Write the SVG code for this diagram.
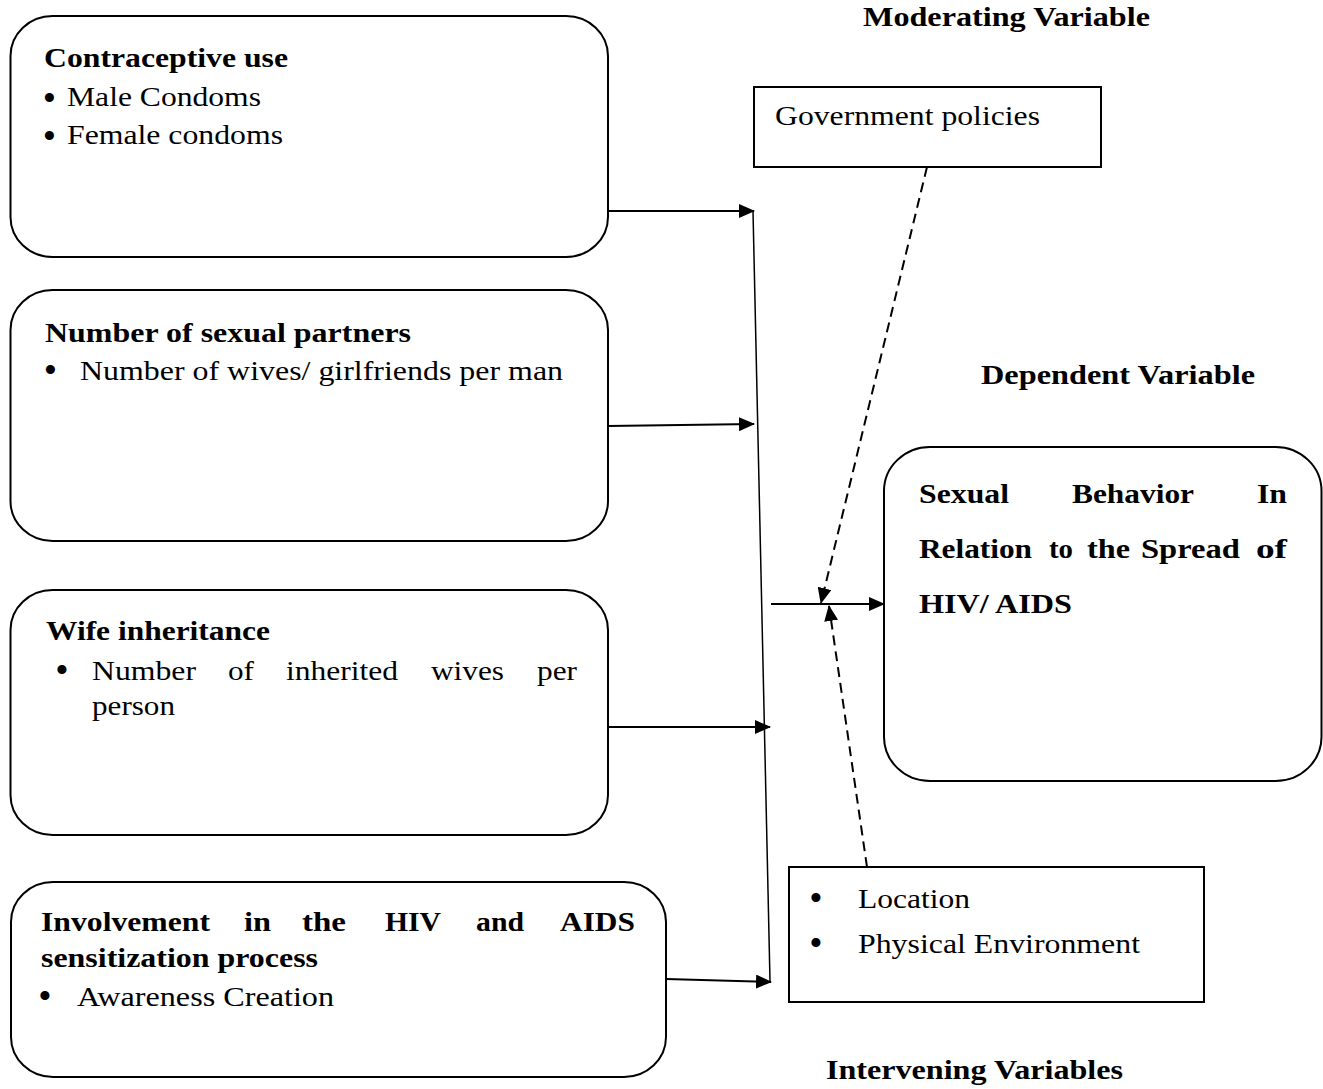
<svg xmlns="http://www.w3.org/2000/svg" width="1323" height="1089" viewBox="0 0 1323 1089" font-family="'Liberation Serif', 'DejaVu Serif', serif">
<style>
text{font-family:'Liberation Serif','DejaVu Serif',serif;font-size:27px;fill:#000}
.b{font-weight:bold}
.bu{font-size:38px;text-anchor:middle}
.box{fill:#fff;stroke:#000;stroke-width:2}
.ar{stroke:#000;stroke-width:2;fill:none;marker-end:url(#ah)}
.da{stroke:#000;stroke-width:2;fill:none;stroke-dasharray:10 6;marker-end:url(#ah)}
</style>
<defs>
<marker id="ah" markerWidth="16" markerHeight="14" refX="15" refY="7" orient="auto" markerUnits="userSpaceOnUse"><path d="M0,0 L16,7 L0,14 Z" fill="#000"/></marker>
</defs>
<rect width="1323" height="1089" fill="#fff"/>

<g id="connectors">
<line x1="753" y1="211" x2="770" y2="981" stroke="#000" stroke-width="1.5"/>
<line class="ar" x1="608" y1="211" x2="754" y2="211"/>
<line class="ar" x1="608" y1="426" x2="754" y2="424"/>
<line class="ar" x1="608" y1="727" x2="770" y2="727"/>
<line class="ar" x1="666" y1="979" x2="771" y2="982"/>
<line class="ar" x1="771" y1="604" x2="884" y2="604"/>
<line class="da" x1="927" y1="167" x2="821" y2="603"/>
<line class="da" x1="867" y1="867" x2="829" y2="606"/>
</g>

<g id="contraceptive">
<rect class="box" x="10.5" y="16" width="597.5" height="241" rx="42" ry="40"/>
<text class="b" x="44" y="67" textLength="244" lengthAdjust="spacingAndGlyphs">Contraceptive use</text>
<text class="bu" x="49.5" y="111">•</text>
<text x="67" y="106" textLength="194" lengthAdjust="spacingAndGlyphs">Male Condoms</text>
<text class="bu" x="49.5" y="149">•</text>
<text x="67" y="144" textLength="216" lengthAdjust="spacingAndGlyphs">Female condoms</text>
</g>

<g id="partners">
<rect class="box" x="10.5" y="290" width="597.5" height="251" rx="42" ry="40"/>
<text class="b" x="45" y="342" textLength="366" lengthAdjust="spacingAndGlyphs">Number of sexual partners</text>
<text class="bu" x="50.5" y="383">•</text>
<text x="80" y="380" textLength="483" lengthAdjust="spacingAndGlyphs">Number of wives/ girlfriends per man</text>
</g>

<g id="inheritance">
<rect class="box" x="10.5" y="590" width="597.5" height="245" rx="42" ry="40"/>
<text class="b" x="46" y="640" textLength="224" lengthAdjust="spacingAndGlyphs">Wife inheritance</text>
<text class="bu" x="62" y="683">•</text>
<text x="92" y="680" textLength="104" lengthAdjust="spacingAndGlyphs">Number</text>
<text x="228" y="680" textLength="26" lengthAdjust="spacingAndGlyphs">of</text>
<text x="286" y="680" textLength="112" lengthAdjust="spacingAndGlyphs">inherited</text>
<text x="431" y="680" textLength="73" lengthAdjust="spacingAndGlyphs">wives</text>
<text x="537" y="680" textLength="40" lengthAdjust="spacingAndGlyphs">per</text>
<text x="92" y="715" textLength="83" lengthAdjust="spacingAndGlyphs">person</text>
</g>

<g id="involvement">
<rect class="box" x="11" y="882" width="655" height="195" rx="42" ry="40"/>
<text class="b" x="41" y="931" textLength="169" lengthAdjust="spacingAndGlyphs">Involvement</text>
<text class="b" x="244" y="931" textLength="27" lengthAdjust="spacingAndGlyphs">in</text>
<text class="b" x="302" y="931" textLength="44" lengthAdjust="spacingAndGlyphs">the</text>
<text class="b" x="385" y="931" textLength="56" lengthAdjust="spacingAndGlyphs">HIV</text>
<text class="b" x="476" y="931" textLength="48" lengthAdjust="spacingAndGlyphs">and</text>
<text class="b" x="560" y="931" textLength="75" lengthAdjust="spacingAndGlyphs">AIDS</text>
<text class="b" x="41" y="967" textLength="277" lengthAdjust="spacingAndGlyphs">sensitization process</text>
<text class="bu" x="45" y="1009">•</text>
<text x="77" y="1006" textLength="257" lengthAdjust="spacingAndGlyphs">Awareness Creation</text>
</g>

<g id="moderating">
<text class="b" x="863" y="26" textLength="287" lengthAdjust="spacingAndGlyphs">Moderating Variable</text>
<rect class="box" x="754" y="87" width="347" height="80"/>
<text x="775" y="125" textLength="265" lengthAdjust="spacingAndGlyphs">Government policies</text>
</g>

<g id="dependent">
<text class="b" x="981" y="384" textLength="274" lengthAdjust="spacingAndGlyphs">Dependent Variable</text>
<rect class="box" x="884" y="447" width="437.5" height="334" rx="46" ry="44"/>
<text class="b" x="919" y="503" textLength="90" lengthAdjust="spacingAndGlyphs">Sexual</text>
<text class="b" x="1072" y="503" textLength="122" lengthAdjust="spacingAndGlyphs">Behavior</text>
<text class="b" x="1257" y="503" textLength="30" lengthAdjust="spacingAndGlyphs">In</text>
<text class="b" x="919" y="558" textLength="113" lengthAdjust="spacingAndGlyphs">Relation</text>
<text class="b" x="1049" y="558" textLength="24" lengthAdjust="spacingAndGlyphs">to</text>
<text class="b" x="1087" y="558" textLength="43" lengthAdjust="spacingAndGlyphs">the</text>
<text class="b" x="1141" y="558" textLength="99" lengthAdjust="spacingAndGlyphs">Spread</text>
<text class="b" x="1256" y="558" textLength="31" lengthAdjust="spacingAndGlyphs">of</text>
<text class="b" x="919" y="613" textLength="153" lengthAdjust="spacingAndGlyphs">HIV/ AIDS</text>
</g>

<g id="intervening">
<rect class="box" x="789" y="867" width="415" height="135"/>
<text class="bu" x="816" y="911">•</text>
<text x="858" y="908" textLength="112" lengthAdjust="spacingAndGlyphs">Location</text>
<text class="bu" x="816" y="956">•</text>
<text x="858" y="953" textLength="282" lengthAdjust="spacingAndGlyphs">Physical Environment</text>
<text class="b" x="826" y="1079" textLength="297" lengthAdjust="spacingAndGlyphs">Intervening Variables</text>
</g>
</svg>
